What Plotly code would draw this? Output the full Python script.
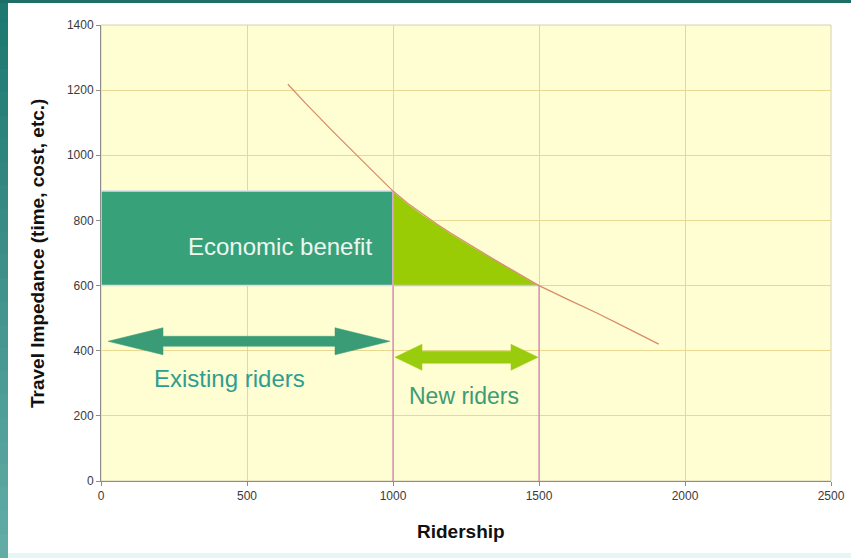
import plotly.graph_objects as go

# ---------------- data ----------------
ridership = [640, 700, 800, 900, 1000, 1050, 1100, 1150, 1200, 1250, 1300, 1350, 1400, 1450, 1500,
             1600, 1700, 1800, 1910]
impedance = [1218, 1160, 1068, 978, 890, 853, 820, 789, 760, 732, 705, 678, 652, 626, 600,
             557, 515, 470, 420]

existing_riders = 1000
new_total = 1500
price_before = 890
price_after = 600

x_ticks = [0, 500, 1000, 1500, 2000, 2500]
y_ticks = [0, 200, 400, 600, 800, 1000, 1200, 1400]

# --------------- geometry helpers ---------------
L, R, T, B = 101, 20, 25, 77
W, H = 851, 558
pw, ph = W - L - R, H - T - B
X_MAX, Y_MAX = 2500, 1400
ux = X_MAX / pw   # data units per pixel x
uy = Y_MAX / ph   # data units per pixel y


def double_arrow(x0, x1, yc, shaft_px, head_h_px, head_l_px):
    s = shaft_px / 2 * uy
    h = head_h_px / 2 * uy
    hl = head_l_px * ux
    xs = [x0, x0 + hl, x0 + hl, x1 - hl, x1 - hl, x1, x1 - hl, x1 - hl, x0 + hl, x0 + hl, x0]
    ys = [yc, yc + h, yc + s, yc + s, yc + h, yc, yc - h, yc - s, yc - s, yc - h, yc]
    return xs, ys


fig = go.Figure()

# Economic benefit rectangle
fig.add_trace(go.Scatter(
    x=[0, existing_riders, existing_riders, 0, 0],
    y=[price_after, price_after, price_before, price_before, price_after],
    fill="toself", fillcolor="#37A27A", mode="lines",
    line=dict(color="#D8DCEC", width=1.5), hoverinfo="skip", showlegend=False))

# triangle (consumer surplus for new riders)
tri_x = [x for x in ridership if existing_riders <= x <= new_total]
tri_y = [y for x, y in zip(ridership, impedance) if existing_riders <= x <= new_total]
fig.add_trace(go.Scatter(
    x=tri_x + [existing_riders, existing_riders],
    y=tri_y + [price_after, price_before],
    fill="toself", fillcolor="#9ACC06", mode="lines",
    line=dict(color="#FFFFFF", width=1.2),
    hoverinfo="skip", showlegend=False))

# vertical drop lines
fig.add_trace(go.Scatter(x=[existing_riders, existing_riders], y=[0, price_before], mode="lines",
                         line=dict(color="#C46AA8", width=1), hoverinfo="skip", showlegend=False))
fig.add_trace(go.Scatter(x=[new_total, new_total], y=[0, price_after], mode="lines",
                         line=dict(color="#C46AA8", width=1), hoverinfo="skip", showlegend=False))
fig.add_trace(go.Scatter(x=[existing_riders, new_total], y=[price_after, price_after], mode="lines",
                         line=dict(color="#C8C4DC", width=1.5), hoverinfo="skip", showlegend=False))

# demand curve
fig.add_trace(go.Scatter(x=ridership, y=impedance, mode="lines",
                         line=dict(color="#D98C6A", width=1.3), hoverinfo="skip", showlegend=False))

# arrows
ax, ay = double_arrow(7 * ux, existing_riders - 3 * ux, 429, 10, 27, 55)
fig.add_trace(go.Scatter(x=ax, y=ay, fill="toself", fillcolor="#3A9C76", mode="lines",
                         line=dict(color="#3A9C76", width=0.5), hoverinfo="skip", showlegend=False))
bx, by = double_arrow(existing_riders + 2 * ux, new_total - 1 * ux, 380, 12, 26, 27)
fig.add_trace(go.Scatter(x=bx, y=by, fill="toself", fillcolor="#9ACC0E", mode="lines",
                         line=dict(color="#9ACC0E", width=0.5), hoverinfo="skip", showlegend=False))

font_main = "Arial, Liberation Sans, Helvetica, sans-serif"

annotations = [
    dict(x=(280 - L) * ux, y=(T + ph - 246) * uy, xref="x", yref="y", text="Economic benefit",
         showarrow=False, xanchor="center", yanchor="middle",
         font=dict(family=font_main, size=24, color="#EEF6F0")),
    dict(x=(229 - L) * ux, y=(T + ph - 378) * uy, xref="x", yref="y", text="Existing riders",
         showarrow=False, xanchor="center", yanchor="middle",
         font=dict(family=font_main, size=24, color="#2E9E90")),
    dict(x=(464 - L) * ux, y=(T + ph - 396) * uy, xref="x", yref="y", text="New riders",
         showarrow=False, xanchor="center", yanchor="middle",
         font=dict(family=font_main, size=23, color="#3C9C76")),
    dict(x=(37 - L) / pw, y=(T + ph - 254) / ph, xref="paper", yref="paper",
         text="<b>Travel Impedance (time, cost, etc.)</b>", textangle=-90, showarrow=False,
         xanchor="center", yanchor="middle",
         font=dict(family=font_main, size=19, color="#111111")),
    dict(x=(461 - L) / pw, y=(T + ph - 531) / ph, xref="paper", yref="paper",
         text="<b>Ridership</b>", showarrow=False, xanchor="center", yanchor="middle",
         font=dict(family=font_main, size=19, color="#111111")),
]

shapes = []
# left teal gradient band
n = 24
for i in range(n):
    t = i / (n - 1)
    r = int(0x1C + (0x62 - 0x1C) * t)
    g = int(0x78 + (0xAC - 0x78) * t)
    b = int(0x70 + (0xA6 - 0x70) * t)
    y0 = 1 + T / ph - (i + 1) * (H / ph) / n
    y1 = 1 + T / ph - i * (H / ph) / n
    shapes.append(dict(type="rect", xref="paper", yref="paper", x0=-L / pw, x1=(8 - L) / pw,
                       y0=y0, y1=y1 + 0.002, fillcolor=f"rgb({r},{g},{b})", line=dict(width=0),
                       layer="below"))
# top band
shapes.append(dict(type="rect", xref="paper", yref="paper", x0=-L / pw, x1=1 + R / pw,
                   y0=1 + (T - 3) / ph, y1=1 + T / ph + 0.01, fillcolor="#1E6E68", line=dict(width=0),
                   layer="below"))
# bottom light strip
shapes.append(dict(type="rect", xref="paper", yref="paper", x0=(8 - L) / pw, x1=1 + R / pw,
                   y0=-B / ph - 0.01, y1=-(B - 5) / ph, fillcolor="#E6F6F6", line=dict(width=0),
                   layer="below"))
# plot frame
shapes.append(dict(type="rect", xref="paper", yref="paper", x0=0, x1=1, y0=0, y1=1,
                   line=dict(color="#D6D0B4", width=1), layer="below"))

fig.update_layout(
    width=W, height=H,
    autosize=False,
    margin=dict(l=L, r=R, t=T, b=B, autoexpand=False),
    paper_bgcolor="#FFFFFF",
    plot_bgcolor="#FFFDD2",
    font=dict(family=font_main, size=12, color="#333333"),
    annotations=annotations,
    shapes=shapes,
    showlegend=False,
)
fig.update_xaxes(range=[0, X_MAX], tickvals=x_ticks, ticktext=[str(v) for v in x_ticks],
                 automargin=False,
                 showgrid=True, gridcolor="#EAD790", gridwidth=1, zeroline=False,
                 showline=True, linecolor="#8C8C8C", linewidth=1,
                 ticks="outside", ticklen=4, tickcolor="#8C8C8C",
                 tickfont=dict(size=12, color="#3A3A3A"), fixedrange=True)
fig.update_yaxes(range=[0, Y_MAX], tickvals=y_ticks, ticktext=[str(v) for v in y_ticks],
                 automargin=False,
                 showgrid=True, gridcolor="#EAD790", gridwidth=1, zeroline=False,
                 showline=True, linecolor="#8C8C8C", linewidth=1,
                 ticks="outside", ticklen=4, tickcolor="#8C8C8C",
                 tickfont=dict(size=12, color="#3A3A3A"), fixedrange=True)

fig.write_html("out.html", config={"displayModeBar": False},
               post_script="document.body.style.margin='0';document.body.style.overflow='hidden';")
